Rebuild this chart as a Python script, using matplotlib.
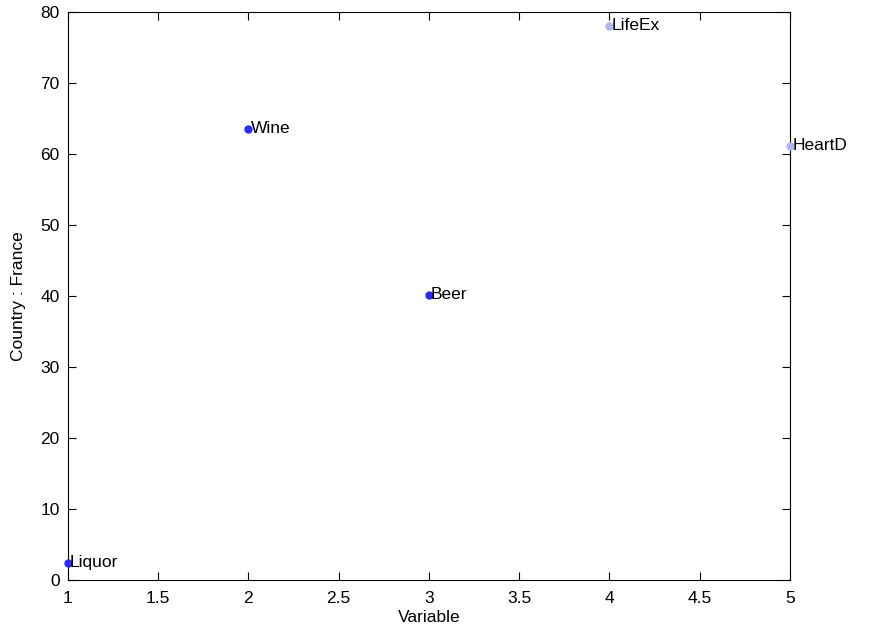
import matplotlib
matplotlib.use("Agg")
import matplotlib.pyplot as plt

plt.rcParams['font.family'] = ['Liberation Sans', 'DejaVu Sans']

variables = ["Liquor", "Wine", "Beer", "LifeEx", "HeartD"]
x_vals = [1, 2, 3, 4, 5]
france = [2.4, 63.5, 40.1, 78.0, 61.1]
colors = ["#2a2aff", "#2a2aff", "#2a2aff", "#b0b4f0", "#b0b4f0"]

fig = plt.figure(figsize=(8.7, 6.42), dpi=100)
ax = fig.add_axes([0.078, 0.097, 0.830, 0.885])

for x, y, c, name in zip(x_vals, france, colors, variables):
    ax.plot(x, y, 'o', color=c, markersize=5, clip_on=False, zorder=3)
    ax.text(x + 0.012, y, name, va='center', ha='left', fontsize=12.5)

ax.set_xlim(1, 5)
ax.set_ylim(0, 80)
ax.set_xticks([1, 1.5, 2, 2.5, 3, 3.5, 4, 4.5, 5])
ax.set_xticklabels(["1", "1.5", "2", "2.5", "3", "3.5", "4", "4.5", "5"])
ax.set_yticks(range(0, 81, 10))
ax.tick_params(direction='in', top=True, right=True, labelsize=12.5, length=6)
ax.tick_params(axis='x', pad=8)
ax.tick_params(axis='y', pad=6)
ax.set_xlabel("Variable", fontsize=12.5, labelpad=3)
ax.set_ylabel("Country : France", fontsize=12.5, labelpad=10)

fig.savefig("out.png", dpi=100)
